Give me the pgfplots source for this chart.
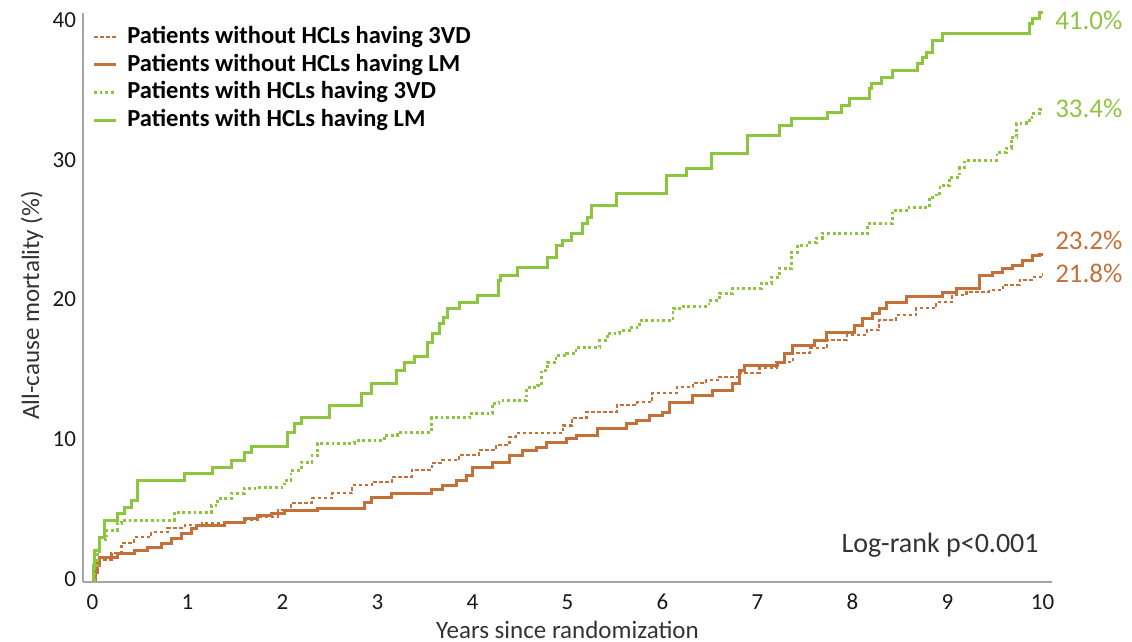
\documentclass[border=0pt]{standalone}
\usepackage{pgfplots}
\pgfplotsset{compat=1.18}
\usepackage{fontspec}
\setmainfont{Carlito}
\usetikzlibrary{calc}
\definecolor{cgreen}{RGB}{140,198,63}
\definecolor{corange}{RGB}{196,112,56}
\definecolor{axgray}{RGB}{166,166,166}
\begin{document}
\begin{tikzpicture}
\begin{axis}[
  name=ax,
  scale only axis, width=484.5pt, height=284.5pt,
  xmin=-0.1, xmax=10.1, ymin=-0.2, ymax=40.5,
  axis x line*=bottom, axis y line*=left,
  axis line style={axgray, line width=1pt, -},
  xtick={0,1,...,10}, ytick={0,10,20,30,40},
  major tick length=0pt,
  /pgf/number format/assume math mode=true,
  tick label style={font=\fontsize{11.5}{13}\selectfont, text=black!90},
  xticklabel shift=2.6pt,
  xlabel={Years since randomization},
  ylabel={All-cause mortality (\%)},
  x label style={at={(axis description cs:0.5,-0.0844)}, anchor=center, font=\fontsize{12.5}{14}\selectfont, text=black!80},
  y label style={at={(axis description cs:-0.0526,0.486)}, anchor=center, font=\fontsize{12.5}{14}\selectfont, text=black!80},
  clip=false,
  legend style={at={(axis description cs:0.0093,1)}, yshift=-5pt, anchor=north west,
    draw=none, fill=none, inner sep=0pt, row sep=0pt,
    font=\bfseries\fontsize{12.25}{13.85}\selectfont,
    nodes={text height=10pt, text depth=3.85pt, inner sep=0pt},
    /tikz/every odd column/.style={column sep=5pt}},
  legend cell align=left,
  legend image code/.code={\draw[#1] (0pt,0pt) -- (11pt,0pt);},
]
% Patients without HCLs having 3VD
\addplot[const plot, corange, line width=1.1pt, dash pattern=on 1.8pt off 1.2pt] coordinates {
(0,0) (0.02,0.6) (0.04,1.0) (0.05,1.36) (0.2,1.86) (0.305,2.58) (0.44,3.0) (0.62,3.36) (0.79,3.65) (0.97,3.86) (1.15,4.0) (1.57,4.22) (1.74,4.43) (1.95,4.94) (2.09,5.44) (2.31,5.79) (2.52,6.15) (2.73,6.72) (2.94,6.94) (3.15,7.3) (3.36,7.8) (3.57,8.3) (3.68,8.51) (3.86,8.87) (4.07,9.23) (4.25,9.59) (4.39,10.16) (4.46,10.44) (4.95,11.0) (5.05,11.52) (5.2,11.95) (5.52,12.45) (5.73,12.66) (5.89,13.3) (6.15,13.73) (6.32,14.02) (6.46,14.23) (6.6,14.45) (6.81,14.74) (7.02,15.09) (7.2,15.52) (7.37,16.17) (7.55,16.52) (7.73,17.1) (7.94,17.45) (8.15,17.81) (8.28,18.53) (8.46,18.88) (8.67,19.38) (8.88,19.81) (9.05,20.31) (9.2,20.53) (9.44,20.67) (9.58,21.03) (9.76,21.39) (9.89,21.6) (9.98,21.8) (10.0,21.8)
};
\addlegendentry{Patients without HCLs having 3VD}
% Patients without HCLs having LM
\addplot[const plot, corange, line width=1.5pt] coordinates {
(0,0) (0.03,0.5) (0.05,1.0) (0.074,1.57) (0.26,1.86) (0.44,2.07) (0.58,2.29) (0.73,2.58) (0.83,2.93) (0.94,3.29) (1.04,3.65) (1.1,3.86) (1.39,4.08) (1.6,4.36) (1.74,4.58) (1.88,4.72) (2.02,4.94) (2.37,5.08) (2.86,5.51) (2.94,5.87) (3.15,6.15) (3.57,6.4) (3.68,6.72) (3.83,7.08) (3.94,7.44) (4.0,8.01) (4.21,8.37) (4.39,8.87) (4.53,9.23) (4.67,9.44) (4.78,9.8) (4.99,10.09) (5.09,10.3) (5.32,10.8) (5.62,11.16) (5.73,11.37) (5.86,11.73) (6.0,11.95) (6.07,12.66) (6.32,13.16) (6.53,13.52) (6.74,14.02) (6.81,14.95) (6.86,15.31) (7.21,15.52) (7.28,16.17) (7.37,16.74) (7.6,17.1) (7.73,17.67) (8.02,18.17) (8.1,18.67) (8.21,19.03) (8.28,19.38) (8.36,19.81) (8.57,20.24) (8.95,20.53) (9.09,20.82) (9.34,21.75) (9.47,21.96) (9.58,22.25) (9.68,22.46) (9.79,22.82) (9.89,23.18) (9.97,23.2) (10.0,23.2)
};
\addlegendentry{Patients without HCLs having LM}
% Patients with HCLs having 3VD
\addplot[const plot, cgreen, line width=1.4pt, dash pattern=on 1.4pt off 1.4pt] coordinates {
(0,0) (0.02,1.0) (0.05,2.0) (0.08,2.8) (0.15,3.5) (0.26,4.0) (0.305,4.22) (0.86,4.79) (1.25,5.29) (1.32,5.79) (1.46,6.15) (1.6,6.5) (1.74,6.58) (2.02,7.08) (2.09,7.8) (2.2,8.37) (2.31,8.87) (2.37,9.73) (2.76,9.94) (3.07,10.3) (3.21,10.52) (3.57,11.55) (3.97,11.87) (4.21,12.59) (4.28,12.8) (4.57,13.73) (4.68,13.88) (4.73,14.95) (4.79,15.52) (4.88,16.02) (4.99,16.17) (5.09,16.6) (5.34,17.1) (5.42,17.6) (5.55,17.81) (5.65,18.03) (5.76,18.53) (6.11,19.38) (6.18,19.53) (6.49,19.96) (6.6,20.46) (6.74,20.82) (7.04,21.17) (7.15,21.6) (7.23,22.25) (7.36,23.39) (7.42,23.89) (7.52,24.1) (7.62,24.39) (7.68,24.75) (8.16,25.46) (8.42,26.4) (8.57,26.61) (8.81,27.32) (8.88,27.61) (8.92,28.18) (9.02,28.76) (9.13,29.47) (9.18,29.97) (9.52,30.54) (9.62,30.83) (9.67,31.62) (9.73,32.62) (9.83,32.83) (9.89,33.33) (9.97,33.6) (10.0,33.6)
};
\addlegendentry{Patients with HCLs having 3VD}
% Patients with HCLs having LM
\addplot[const plot, cgreen, line width=1.5pt] coordinates {
(0,0) (0.01,1.0) (0.02,2.07) (0.07,3.0) (0.13,4.22) (0.26,4.72) (0.34,5.15) (0.41,5.65) (0.47,7.08) (0.97,7.58) (1.26,8.01) (1.46,8.5) (1.6,9.08) (1.67,9.51) (2.05,10.5) (2.13,11.16) (2.2,11.59) (2.49,12.45) (2.83,13.3) (2.94,14.02) (3.2,14.95) (3.28,15.52) (3.39,15.95) (3.53,16.9) (3.58,17.6) (3.65,18.3) (3.7,18.74) (3.74,19.38) (3.86,19.81) (4.05,20.31) (4.27,21.4) (4.3,21.75) (4.47,22.32) (4.79,23.03) (4.88,23.89) (4.95,24.25) (5.04,24.75) (5.16,25.46) (5.21,25.89) (5.25,26.75) (5.52,27.61) (6.04,28.9) (6.25,29.4) (6.52,30.47) (6.89,31.76) (7.23,32.48) (7.36,32.98) (7.74,33.4) (7.88,33.9) (7.97,34.4) (8.18,35.12) (8.2,35.48) (8.31,35.9) (8.42,36.4) (8.68,36.9) (8.74,37.34) (8.78,37.7) (8.84,38.56) (8.95,39.06) (9.86,39.77) (9.89,40.13) (9.97,40.5) (10.0,40.5)
};
\addlegendentry{Patients with HCLs having LM}
\node[anchor=west, font=\fontsize{13.5}{15}\selectfont, text=cgreen, inner sep=0pt] at (axis cs:10.13,39.99) {41.0\%};
\node[anchor=west, font=\fontsize{13.5}{15}\selectfont, text=cgreen, inner sep=0pt] at (axis cs:10.13,33.69) {33.4\%};
\node[anchor=west, font=\fontsize{13.5}{15}\selectfont, text=corange, inner sep=0pt] at (axis cs:10.13,24.25) {23.2\%};
\node[anchor=west, font=\fontsize{13.5}{15}\selectfont, text=corange, inner sep=0pt] at (axis cs:10.13,21.89) {21.8\%};
\node[anchor=west, font=\fontsize{14}{16}\selectfont, text=black!80, inner sep=0pt] at (axis cs:7.88,2.43) {Log-rank p<0.001};
\end{axis}
\pgfresetboundingbox
\path ($(ax.south west)+(-41.5pt,-30pt)$) rectangle ($(ax.north east)+(40pt,6.5pt)$);
\end{tikzpicture}
\end{document}
